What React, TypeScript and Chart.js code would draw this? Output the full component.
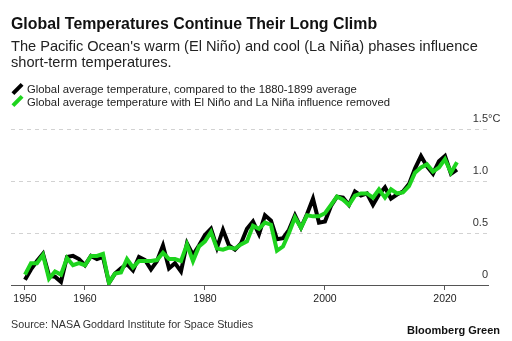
import { useEffect, useRef } from 'react';
import { Chart, registerables } from 'chart.js';

Chart.register(...registerables);

const titleText = 'Global Temperatures Continue Their Long Climb';
const subtitleLine1 = "The Pacific Ocean's warm (El Niño) and cool (La Niña) phases influence";
const subtitleLine2 = 'short-term temperatures.';
const legendLabels = [
  'Global average temperature, compared to the 1880-1899 average',
  'Global average temperature with El Niño and La Niña influence removed',
];
const sourceText = 'Source: NASA Goddard Institute for Space Studies';
const brandText = 'Bloomberg Green';

const years = [
  1950, 1951, 1952, 1953, 1954, 1955, 1956, 1957, 1958, 1959,
  1960, 1961, 1962, 1963, 1964, 1965, 1966, 1967, 1968, 1969,
  1970, 1971, 1972, 1973, 1974, 1975, 1976, 1977, 1978, 1979,
  1980, 1981, 1982, 1983, 1984, 1985, 1986, 1987, 1988, 1989,
  1990, 1991, 1992, 1993, 1994, 1995, 1996, 1997, 1998, 1999,
  2000, 2001, 2002, 2003, 2004, 2005, 2006, 2007, 2008, 2009,
  2010, 2011, 2012, 2013, 2014, 2015, 2016, 2017, 2018, 2019,
  2020, 2021, 2022,
];

// Global average temperature vs 1880-1899 (°C)
const globalTemp = [
  0.05, 0.15, 0.23, 0.30, 0.09, 0.08, 0.03, 0.27, 0.28, 0.25,
  0.19, 0.28, 0.25, 0.27, 0.02, 0.11, 0.16, 0.20, 0.14, 0.27,
  0.24, 0.15, 0.23, 0.38, 0.16, 0.21, 0.13, 0.40, 0.29, 0.38,
  0.48, 0.54, 0.36, 0.53, 0.38, 0.34, 0.40, 0.54, 0.61, 0.49,
  0.67, 0.62, 0.44, 0.45, 0.53, 0.67, 0.55, 0.68, 0.83, 0.60,
  0.61, 0.76, 0.85, 0.84, 0.77, 0.90, 0.86, 0.88, 0.77, 0.87,
  0.94, 0.83, 0.87, 0.90, 0.97, 1.12, 1.24, 1.14, 1.07, 1.19,
  1.24, 1.07, 1.11,
];

// With El Niño / La Niña influence removed (°C)
const ensoRemoved = [
  0.10, 0.21, 0.21, 0.29, 0.06, 0.13, 0.10, 0.26, 0.19, 0.21,
  0.19, 0.28, 0.28, 0.30, 0.02, 0.11, 0.12, 0.25, 0.17, 0.23,
  0.23, 0.23, 0.24, 0.31, 0.25, 0.25, 0.23, 0.39, 0.23, 0.37,
  0.42, 0.51, 0.35, 0.34, 0.36, 0.35, 0.39, 0.42, 0.57, 0.54,
  0.60, 0.58, 0.33, 0.37, 0.50, 0.65, 0.55, 0.67, 0.66, 0.66,
  0.69, 0.77, 0.85, 0.82, 0.77, 0.86, 0.88, 0.88, 0.84, 0.92,
  0.84, 0.92, 0.88, 0.89, 0.95, 1.08, 1.13, 1.16, 1.09, 1.13,
  1.21, 1.08, 1.18,
];

const xTickValues = [1950, 1960, 1980, 2000, 2020];
const yTickValues = [0, 0.5, 1.0, 1.5];
const yTickLabels = ['0', '0.5', '1.0', '1.5'];
const yUnit = '°C';

const FONT = '"Liberation Sans", Arial, Helvetica, sans-serif';
const GREEN = '#1ed41e';

const yLabelPlugin = {
  id: 'yLabelPlugin',
  afterDraw(chart: any) {
    const s = chart.scales.y;
    const ctx = chart.ctx;
    const right = chart.chartArea.right;
    ctx.save();
    ctx.font = `11px ${FONT}`;
    ctx.fillStyle = '#333';
    ctx.textBaseline = 'middle';
    yTickValues.forEach((v, i) => {
      const y = s.getPixelForValue(v) - 10;
      ctx.textAlign = 'right';
      ctx.fillText(yTickLabels[i], right, y);
      if (i === yTickValues.length - 1) {
        ctx.textAlign = 'left';
        ctx.fillText(yUnit, right, y);
      }
    });
    ctx.restore();
  },
};

function ChartCanvas() {
  const ref = useRef<HTMLCanvasElement | null>(null);
  useEffect(() => {
    if (!ref.current) return;
    const chart = new Chart(ref.current, {
      type: 'line',
      data: {
        datasets: [
          {
            label: legendLabels[1],
            data: years.map((y, i) => ({ x: y, y: ensoRemoved[i] })),
            borderColor: GREEN,
            borderWidth: 4,
            pointRadius: 0,
            tension: 0,
            fill: false,
          },
          {
            label: legendLabels[0],
            data: years.map((y, i) => ({ x: y, y: globalTemp[i] })),
            borderColor: '#000',
            borderWidth: 4,
            pointRadius: 0,
            tension: 0,
            fill: false,
          },
        ],
      },
      options: {
        responsive: false,
        animation: false,
        devicePixelRatio: 1,
        layout: { padding: { left: 11, right: 24, top: 129, bottom: 34 } },
        plugins: { legend: { display: false }, tooltip: { enabled: false } },
        scales: {
          x: {
            type: 'linear',
            min: 1947.67,
            max: 2027.17,
            afterBuildTicks: (s: any) => {
              s.ticks = xTickValues.map((v) => ({ value: v }));
            },
            afterFit: (s: any) => {
              s.height = 22;
            },
            ticks: {
              autoSkip: false,
              maxRotation: 0,
              padding: 3,
              color: '#222',
              font: { family: FONT, size: 10.5 },
              callback: (v: any) => String(v),
            },
            grid: { drawOnChartArea: false, drawTicks: true, tickLength: 5, color: '#555' },
            border: { display: true, color: '#555', width: 1 },
          },
          y: {
            type: 'linear',
            position: 'right',
            min: 0,
            max: 1.5,
            afterBuildTicks: (s: any) => {
              s.ticks = yTickValues.map((v) => ({ value: v }));
            },
            afterFit: (s: any) => {
              s.width = 0;
            },
            ticks: { display: false },
            grid: {
              drawTicks: false,
              lineWidth: 1,
              color: (c: any) => (c.tick && c.tick.value === 0 ? 'rgba(0,0,0,0)' : '#d2d2d2'),
            },
            border: { display: false, dash: [4, 4] },
          },
        },
      },
      plugins: [yLabelPlugin],
    } as any);
    return () => chart.destroy();
  }, []);
  return (
    <canvas ref={ref} width={512} height={341} style={{ position: 'absolute', left: 0, top: 0 }} />
  );
}

function Marker({ color, top }: { color: string; top: number }) {
  return (
    <div
      style={{
        position: 'absolute',
        left: 11,
        top,
        width: 13,
        height: 4,
        background: color,
        transform: 'rotate(-45deg)',
        transformOrigin: 'center',
      }}
    />
  );
}

export default function App() {
  return (
    <div
      style={{
        position: 'fixed',
        left: 0,
        top: 0,
        width: 512,
        height: 341,
        background: '#fff',
        fontFamily: FONT,
        color: '#111',
        overflow: 'hidden',
      }}
    >
      <ChartCanvas />
      <div style={{ position: 'absolute', left: 11, top: 14.5, fontSize: 15.9, fontWeight: 700, lineHeight: '18px', whiteSpace: 'nowrap' }}>
        {titleText}
      </div>
      <div style={{ position: 'absolute', left: 11, top: 37.5, fontSize: 14.6, lineHeight: '16px', whiteSpace: 'nowrap', color: '#222' }}>
        {subtitleLine1}
        <br />
        {subtitleLine2}
      </div>
      <Marker color="#000" top={86.5} />
      <Marker color={GREEN} top={99} />
      <div style={{ position: 'absolute', left: 27, top: 83, fontSize: 11.3, lineHeight: '12.5px', whiteSpace: 'nowrap', color: '#222' }}>
        {legendLabels[0]}
        <br />
        {legendLabels[1]}
      </div>
      <div style={{ position: 'absolute', left: 11, top: 317.5, fontSize: 10.75, lineHeight: '12px', whiteSpace: 'nowrap', color: '#333' }}>
        {sourceText}
      </div>
      <div style={{ position: 'absolute', right: 12, top: 324, fontSize: 11, fontWeight: 700, lineHeight: '12px', whiteSpace: 'nowrap', color: '#111' }}>
        {brandText}
      </div>
    </div>
  );
}
